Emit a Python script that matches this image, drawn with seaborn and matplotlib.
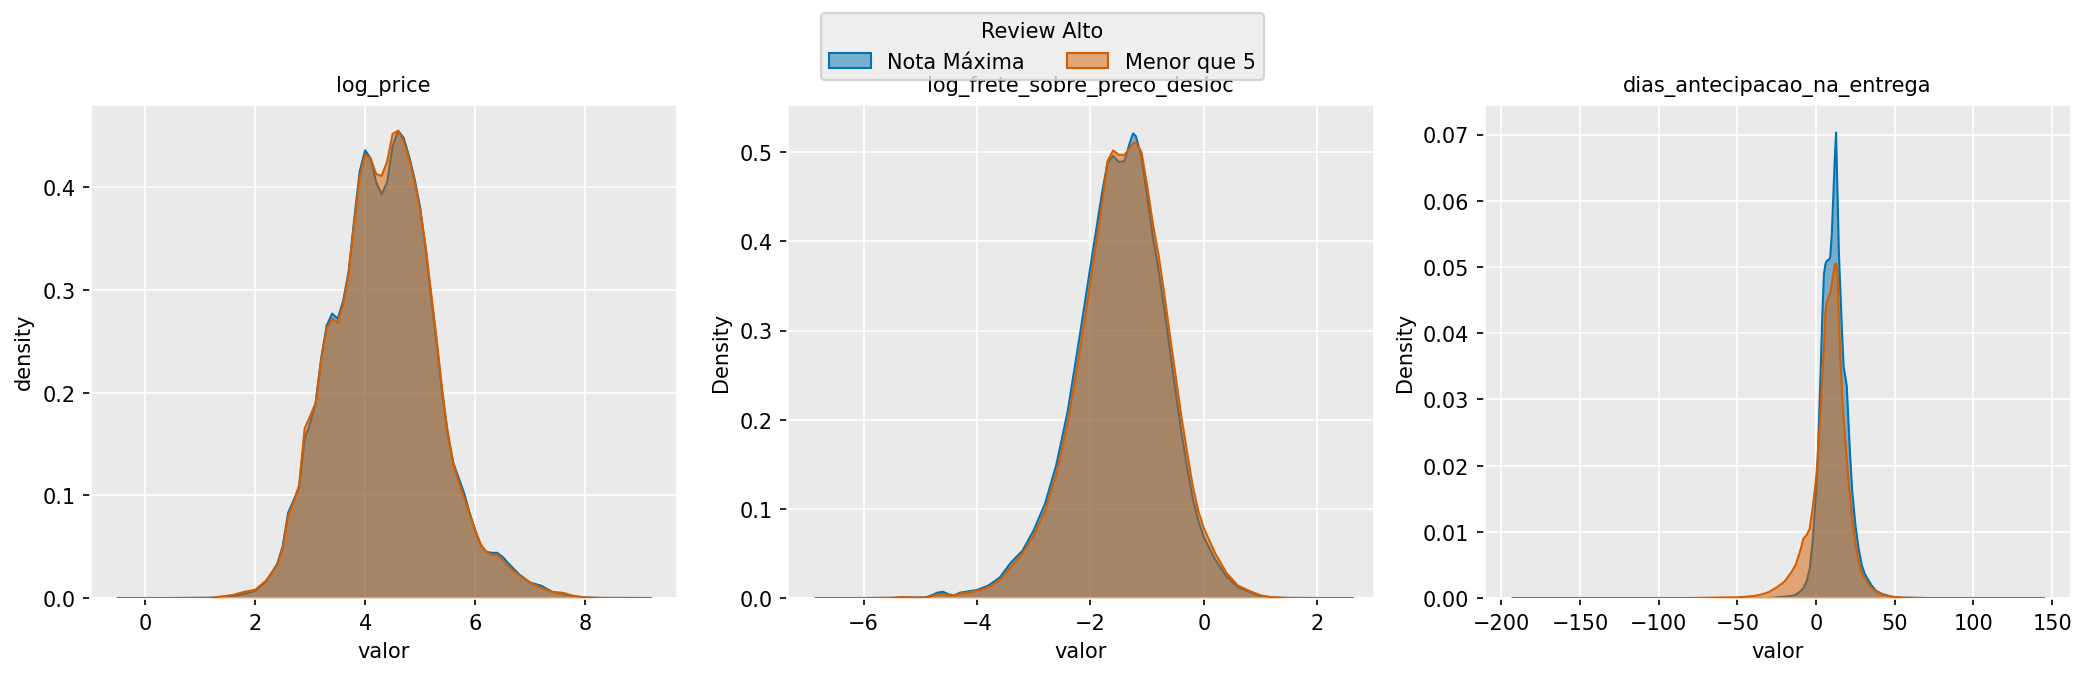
import matplotlib
matplotlib.use("Agg")
import matplotlib.pyplot as plt
import seaborn as sns
from matplotlib.colors import to_rgba
from matplotlib.patches import Patch

# grupos do hue
grupos = ["Nota Máxima", "Menor que 5"]
cores = ["#0173B2", "#D55E00"]

# curvas de densidade (x, densidade por grupo)
x_log_price = [-0.5, 0.5, 1.2, 1.6, 1.8, 2.0, 2.2, 2.4, 2.5, 2.6, 2.7, 2.8, 2.9, 3.0,
               3.1, 3.2, 3.3, 3.4, 3.5, 3.6, 3.7, 3.8, 3.9, 4.0, 4.1, 4.2, 4.3, 4.4,
               4.5, 4.6, 4.7, 4.8, 4.9, 5.0, 5.1, 5.2, 5.3, 5.4, 5.5, 5.6, 5.7, 5.8,
               5.9, 6.0, 6.1, 6.2, 6.3, 6.4, 6.5, 6.6, 6.8, 7.0, 7.2, 7.4, 7.6, 7.8,
               8.0, 8.3, 9.2]
d_log_price_max = [0, 0, 0.0003, 0.002, 0.004, 0.007, 0.016, 0.033, 0.05, 0.083, 0.095,
                   0.108, 0.155, 0.17, 0.19, 0.233, 0.265, 0.277, 0.272, 0.289, 0.318,
                   0.368, 0.415, 0.436, 0.428, 0.405, 0.393, 0.405, 0.44, 0.455, 0.448,
                   0.43, 0.408, 0.38, 0.34, 0.293, 0.248, 0.2, 0.16, 0.132, 0.117, 0.102,
                   0.083, 0.066, 0.052, 0.045, 0.044, 0.044, 0.04, 0.034, 0.023, 0.015,
                   0.012, 0.006, 0.004, 0.0015, 0.0005, 0.0001, 0]
d_log_price_menor = [0, 0, 0.0002, 0.003, 0.006, 0.008, 0.017, 0.032, 0.048, 0.08, 0.093,
                     0.11, 0.165, 0.177, 0.19, 0.232, 0.262, 0.272, 0.268, 0.286, 0.316,
                     0.365, 0.41, 0.432, 0.428, 0.413, 0.411, 0.425, 0.452, 0.455, 0.445,
                     0.428, 0.405, 0.378, 0.342, 0.297, 0.252, 0.203, 0.162, 0.132, 0.113,
                     0.098, 0.082, 0.066, 0.052, 0.045, 0.042, 0.042, 0.037, 0.031, 0.022,
                     0.015, 0.01, 0.006, 0.005, 0.002, 0.0005, 0.0001, 0]

x_frete = [-6.85, -6.0, -5.5, -5.3, -5.1, -4.9, -4.8, -4.7, -4.6, -4.5, -4.4, -4.3, -4.2,
           -4.0, -3.8, -3.6, -3.4, -3.2, -3.0, -2.8, -2.6, -2.4, -2.2, -2.0, -1.8, -1.7,
           -1.6, -1.5, -1.4, -1.3, -1.25, -1.2, -1.1, -1.0, -0.9, -0.8, -0.7, -0.6, -0.5,
           -0.4, -0.3, -0.2, -0.1, 0.0, 0.2, 0.4, 0.6, 0.8, 1.0, 1.2, 1.5, 2.0, 2.63]
d_frete_max = [0, 0, 0.0002, 0.0008, 0.0004, 0.0008, 0.003, 0.006, 0.007, 0.004, 0.003,
               0.006, 0.007, 0.009, 0.014, 0.023, 0.04, 0.053, 0.076, 0.106, 0.15, 0.21,
               0.29, 0.372, 0.453, 0.488, 0.496, 0.489, 0.49, 0.512, 0.521, 0.518, 0.495,
               0.45, 0.405, 0.368, 0.325, 0.278, 0.232, 0.187, 0.148, 0.113, 0.087, 0.068,
               0.043, 0.024, 0.012, 0.007, 0.002, 0.0005, 0.0001, 0, 0]
d_frete_menor = [0, 0, 0.0003, 0.001, 0.0005, 0.0005, 0.002, 0.004, 0.0045, 0.003, 0.003,
                 0.005, 0.006, 0.008, 0.012, 0.02, 0.035, 0.05, 0.07, 0.098, 0.14, 0.197,
                 0.272, 0.355, 0.44, 0.49, 0.502, 0.497, 0.497, 0.505, 0.51, 0.511, 0.5,
                 0.462, 0.42, 0.385, 0.342, 0.295, 0.25, 0.205, 0.165, 0.127, 0.098, 0.078,
                 0.05, 0.028, 0.014, 0.008, 0.003, 0.0008, 0.0001, 0, 0]

x_dias = [-193, -80, -55, -50, -45, -40, -35, -30, -25, -20, -16, -13, -10, -8, -6, -4,
          -2, 0, 1, 2, 3, 4, 5, 6, 7, 8, 9, 10, 11, 12, 12.7, 13.5, 14.5, 15.5, 16.5,
          17.5, 18.5, 19.5, 20.5, 21.5, 23, 25, 27, 29, 31, 33, 35, 38, 42, 48, 55, 70, 145]
d_dias_max = [0, 0, 0, 0, 0, 0, 0, 0, 0.0001, 0.0002, 0.0003, 0.0005, 0.001, 0.0015,
              0.0025, 0.0045, 0.009, 0.016, 0.021, 0.028, 0.035, 0.043, 0.049, 0.0505,
              0.051, 0.051, 0.0515, 0.055, 0.061, 0.067, 0.0703, 0.062, 0.052, 0.046,
              0.04, 0.035, 0.0335, 0.032, 0.027, 0.022, 0.016, 0.011, 0.0075, 0.005,
              0.0036, 0.0028, 0.002, 0.0011, 0.0006, 0.0002, 0.00005, 0, 0]
d_dias_menor = [0, 0, 0.0001, 0.0001, 0.0002, 0.0003, 0.0005, 0.0009, 0.0016, 0.0025,
                0.0038, 0.005, 0.0072, 0.009, 0.0095, 0.0105, 0.014, 0.018, 0.021, 0.025,
                0.029, 0.034, 0.038, 0.0435, 0.0448, 0.0455, 0.046, 0.0475, 0.049, 0.0505,
                0.0505, 0.0495, 0.042, 0.036, 0.031, 0.027, 0.024, 0.021, 0.018, 0.0155,
                0.012, 0.0085, 0.0055, 0.0038, 0.0029, 0.0022, 0.0016, 0.001, 0.0005,
                0.0002, 0.00005, 0, 0]

variaveis = ["log_price", "log_frete_sobre_preco_desloc", "dias_antecipacao_na_entrega"]
xs = [x_log_price, x_frete, x_dias]
curvas = [[d_log_price_max, d_log_price_menor],
          [d_frete_max, d_frete_menor],
          [d_dias_max, d_dias_menor]]
ylabels = ["density", "Density", "Density"]
xlims = [(-1.0, 9.67), (-7.35, 3.0), (-211, 162)]
ylims = [0.481, 0.554, 0.0746]

sns.set_theme(style="darkgrid", rc={
    "axes.facecolor": "#EAEAEA",
    "grid.color": "white",
    "grid.linewidth": 0.8,
    "font.size": 10,
    "axes.titlesize": 10,
    "axes.labelsize": 10,
    "xtick.labelsize": 10,
    "ytick.labelsize": 10,
    "legend.fontsize": 10,
    "legend.title_fontsize": 10,
    "xtick.bottom": True,
    "ytick.left": True,
    "xtick.major.size": 3.5,
    "ytick.major.size": 3.5,
    "xtick.major.width": 0.8,
    "ytick.major.width": 0.8,
    "xtick.color": "black",
    "ytick.color": "black",
    "text.color": "black",
    "axes.labelcolor": "black",
    "axes.titlepad": 6,
})
plt.rcParams["font.family"] = ["DejaVu Sans"]

fig, axes = plt.subplots(1, 3, figsize=(13.9, 4.513), dpi=150)
fig.subplots_adjust(left=0.0432, right=0.9933, bottom=0.1152, top=0.8449, wspace=0.1874)

for i, ax in enumerate(axes):
    for j, (grupo, cor) in enumerate(zip(grupos, cores)):
        y = curvas[i][j]
        ax.fill_between(xs[i], y, color=to_rgba(cor, 0.5), linewidth=0, zorder=2 + j)
        sns.lineplot(x=xs[i], y=y, color=cor, linewidth=1.0, estimator=None, sort=False,
                     ax=ax, zorder=2.5 + j)
    ax.set_xlim(*xlims[i])
    ax.set_ylim(0, ylims[i])
    ax.set_title(variaveis[i])
    ax.set_xlabel("valor")
    ax.set_ylabel(ylabels[i])

handles = [Patch(facecolor=to_rgba(c, 0.5), edgecolor=c, linewidth=1.0, label=g)
           for g, c in zip(grupos, cores)]
fig.legend(handles=handles, title="Review Alto", loc="upper center",
           bbox_to_anchor=(0.5, 0.995), ncol=2, frameon=True)

fig.savefig("out.png", dpi=150)
